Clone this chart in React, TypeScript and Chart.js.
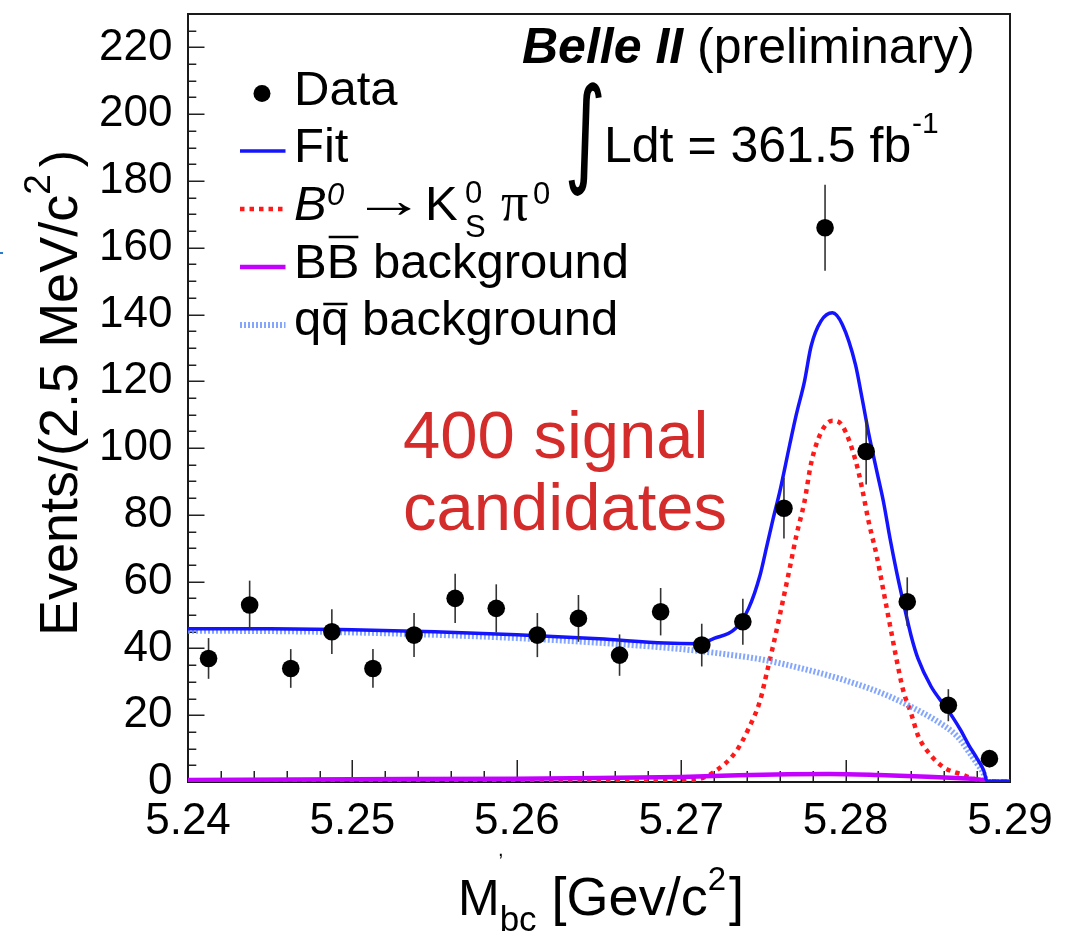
import React, { useEffect, useRef } from 'react';
import { Chart, registerables } from 'chart.js';

Chart.register(...registerables);

// ---------- data ----------
const binCenters = [
  5.24125, 5.24375, 5.24625, 5.24875, 5.25125, 5.25375, 5.25625, 5.25875, 5.26125, 5.26375,
  5.26625, 5.26875, 5.27125, 5.27375, 5.27625, 5.27875, 5.28125, 5.28375, 5.28625, 5.28875,
];
const dataCounts = [37, 53, 34, 45, 34, 44, 55, 52, 44, 49, 38, 51, 41, 48, 82, 166, 99, 54, 23, 7];
const dataErrors = [6.1, 7.3, 5.8, 6.7, 5.8, 6.6, 7.4, 7.2, 6.6, 7.0, 6.2, 7.1, 6.4, 6.9, 9.1, 12.9, 9.9, 7.3, 4.8, 2.6];

const fitX = [
  5.24, 5.245, 5.25, 5.255, 5.26, 5.265, 5.269, 5.271, 5.272, 5.2733, 5.2741, 5.2748, 5.2752, 5.2756,
  5.276, 5.2766, 5.277, 5.2775, 5.2779, 5.2785, 5.2792, 5.2798, 5.2806, 5.281, 5.2814, 5.2819, 5.2823,
  5.2827, 5.2831, 5.2835, 5.284, 5.2844, 5.2852, 5.286, 5.2865, 5.287, 5.2875, 5.288, 5.2884, 5.2886, 5.29,
];
const fitY = [
  45.9, 45.9, 45.6, 45.0, 44.1, 42.9, 41.6, 41.4, 43.0, 46.0, 52.0, 62.0, 70.5, 79.0,
  87.0, 101.0, 110.0, 120.0, 130.5, 138.0, 140.5, 137.0, 125.0, 115.0, 104.5, 93.0, 84.0,
  73.0, 63.0, 54.0, 43.5, 37.0, 28.6, 23.0, 19.5, 15.5, 11.0, 7.0, 3.5, 0.3, 0.2,
];

const signalX = [
  5.24, 5.25, 5.26, 5.265, 5.269, 5.271, 5.272, 5.2733, 5.2741, 5.2748, 5.2752, 5.2756, 5.276, 5.2766,
  5.277, 5.2775, 5.2779, 5.2785, 5.2792, 5.2798, 5.2806, 5.281, 5.2814, 5.2819, 5.2823, 5.2827, 5.2831,
  5.2835, 5.284, 5.2844, 5.2852, 5.286, 5.2871, 5.2877, 5.2888, 5.29,
];
const signalY = [
  0, 0, 0, 0, 0.2, 0.8, 3.0, 8.9, 16.0, 24.4, 32.6, 41.0, 50.0, 64.0,
  73.7, 84.0, 95.4, 104.6, 108.2, 106.7, 96.4, 88.0, 78.0, 67.6, 57.3, 47.0, 36.7,
  27.5, 20.3, 14.0, 7.9, 4.3, 2.2, 1.1, 0.3, 0,
];

const qqX = [
  5.24, 5.245, 5.25, 5.255, 5.26, 5.265, 5.27, 5.2725, 5.275, 5.2775, 5.28, 5.2825, 5.2845, 5.2855,
  5.2865, 5.287, 5.2875, 5.288, 5.2884, 5.2886, 5.29,
];
const qqY = [
  45.3, 45.2, 44.8, 44.1, 43.1, 41.7, 39.8, 38.4, 36.6, 33.8, 30.4, 26.0, 21.2, 18.4,
  15.0, 12.5, 9.0, 5.5, 2.5, 0, 0,
];

const bbX = [5.24, 5.25, 5.26, 5.265, 5.27, 5.2735, 5.2765, 5.279, 5.282, 5.285, 5.287, 5.2884, 5.2886, 5.29];
const bbY = [0.6, 0.8, 1.0, 1.2, 1.5, 2.0, 2.3, 2.4, 2.1, 1.6, 1.1, 0.5, 0, 0];

const X_MIN = 5.24;
const X_MAX = 5.29;
const Y_MIN = 0;
const Y_MAX = 230;
const X_MAJOR = 0.01;
const X_MINOR = 0.002;
const Y_MAJOR = 20;
const Y_MINOR = 5;

// ---------- styling ----------
const SANS = '"Liberation Sans", Arial, Helvetica, sans-serif';
const SERIF = '"Liberation Serif", "Times New Roman", serif';
const FIT_COLOR = '#1414ff';
const SIG_COLOR = '#ff1a1a';
const BB_COLOR = '#c400ff';
const QQ_COLOR = 'rgba(110,150,255,0.85)';
const RED_TEXT = '#d42b2b';

const pairs = (xs: number[], ys: number[]) => xs.map((x, i) => ({ x, y: ys[i] }));

type Run = { t: string; font: string; dy?: number; dx?: number; color?: string };

function drawRuns(ctx: CanvasRenderingContext2D, x: number, y: number, runs: Run[]) {
  let cx = x;
  for (const r of runs) {
    ctx.font = r.font;
    ctx.fillStyle = r.color || '#000';
    cx += r.dx || 0;
    ctx.fillText(r.t, cx, y + (r.dy || 0));
    cx += ctx.measureText(r.t).width;
  }
  return cx;
}

// draw a glyph stretched to fill a given ink box
function fitGlyph(ctx: CanvasRenderingContext2D, t: string, font: string, x: number, y: number, w: number, h: number) {
  ctx.font = font;
  const m = ctx.measureText(t);
  const gw = m.actualBoundingBoxLeft + m.actualBoundingBoxRight || 1;
  const gh = m.actualBoundingBoxAscent + m.actualBoundingBoxDescent || 1;
  ctx.save();
  ctx.translate(x, y);
  ctx.scale(w / gw, h / gh);
  ctx.fillStyle = '#000';
  ctx.fillText(t, m.actualBoundingBoxLeft, m.actualBoundingBoxAscent);
  ctx.restore();
}

const decorPlugin = {
  id: 'decor',
  beforeDatasetsDraw(chart: any) {
    const ctx: CanvasRenderingContext2D = chart.ctx;
    const { left, right, top, bottom } = chart.chartArea;
    const xs = chart.scales.x;
    const ys = chart.scales.y;
    ctx.save();
    ctx.strokeStyle = '#222';
    ctx.lineWidth = 1.5;
    const nY = Math.round((Y_MAX - Y_MIN) / Y_MINOR);
    for (let i = 1; i < nY; i++) {
      const v = Y_MIN + i * Y_MINOR;
      const py = Math.round(ys.getPixelForValue(v)) + 0.25;
      const major = Math.abs(v / Y_MAJOR - Math.round(v / Y_MAJOR)) < 1e-6;
      const len = major ? 16.5 : 8.3;
      ctx.beginPath();
      ctx.moveTo(left, py);
      ctx.lineTo(left + len, py);
      ctx.stroke();
    }
    const nX = Math.round((X_MAX - X_MIN) / X_MINOR);
    const per = Math.round(X_MAJOR / X_MINOR);
    for (let i = 1; i < nX; i++) {
      const v = X_MIN + i * X_MINOR;
      const px = Math.round(xs.getPixelForValue(v)) + 0.25;
      const len = i % per === 0 ? 22 : 11;
      ctx.beginPath();
      ctx.moveTo(px, bottom);
      ctx.lineTo(px, bottom - len);
      ctx.stroke();
    }
    ctx.strokeStyle = '#1a1a1a';
    ctx.lineWidth = 2;
    ctx.strokeRect(left, top, right - left, bottom - top);
    ctx.restore();
  },
  beforeDatasetDraw(chart: any, args: any) {
    if (args.index !== 0) return;
    const ctx: CanvasRenderingContext2D = chart.ctx;
    const xs = chart.scales.x;
    const ys = chart.scales.y;
    ctx.save();
    ctx.strokeStyle = '#333';
    ctx.lineWidth = 1.6;
    binCenters.forEach((x, i) => {
      const px = xs.getPixelForValue(x);
      const y1 = ys.getPixelForValue(dataCounts[i] - dataErrors[i]);
      const y2 = ys.getPixelForValue(dataCounts[i] + dataErrors[i]);
      ctx.beginPath();
      ctx.moveTo(px, y1);
      ctx.lineTo(px, y2);
      ctx.stroke();
    });
    ctx.restore();
  },
  afterDraw(chart: any) {
    const ctx: CanvasRenderingContext2D = chart.ctx;
    ctx.save();
    ctx.textBaseline = 'alphabetic';
    ctx.textAlign = 'left';

    const F = (size: number, style = '') => `${style} ${size}px ${SANS}`.trim();
    const LF = 49;

    // Belle II (preliminary)
    drawRuns(ctx, 522, 63, [
      { t: 'Belle II', font: F(50, 'italic bold') },
      { t: ' (preliminary)', font: F(50) },
    ]);

    // integral
    fitGlyph(ctx, '∫', '100px "DejaVu Sans"', 568, 82, 34, 115);
    drawRuns(ctx, 604, 162, [{ t: 'Ldt = 361.5 fb', font: F(50) }]);
    drawRuns(ctx, 912, 133, [{ t: '-1', font: F(30) }]);

    // legend
    const lx1 = 240;
    const lx2 = 285.5;
    const tx = 294;
    ctx.fillStyle = '#000';
    ctx.beginPath();
    ctx.arc(262, 93.5, 8.5, 0, Math.PI * 2);
    ctx.fill();
    drawRuns(ctx, tx, 105, [{ t: 'Data', font: F(LF) }]);

    ctx.strokeStyle = FIT_COLOR;
    ctx.lineWidth = 3.5;
    ctx.beginPath();
    ctx.moveTo(lx1, 151);
    ctx.lineTo(lx2, 151);
    ctx.stroke();
    drawRuns(ctx, tx, 162, [{ t: 'Fit', font: F(LF) }]);

    ctx.strokeStyle = SIG_COLOR;
    ctx.lineWidth = 4.5;
    ctx.setLineDash([4.5, 5]);
    ctx.beginPath();
    ctx.moveTo(lx1, 209);
    ctx.lineTo(lx2, 209);
    ctx.stroke();
    ctx.setLineDash([]);
    ctx.fillStyle = '#000';
    ctx.font = F(LF, 'italic');
    ctx.fillText('B', tx, 220);
    ctx.font = F(31, 'italic');
    ctx.fillText('0', 327, 205);
    fitGlyph(ctx, '→', `100px ${SANS}`, 367, 202, 44, 12);
    ctx.font = F(LF);
    ctx.fillText('K', 425, 220);
    ctx.font = F(31);
    ctx.fillText('0', 465, 203);
    ctx.fillText('S', 465, 237);
    ctx.font = `54px ${SERIF}`;
    ctx.fillText('π', 501, 220);
    ctx.font = F(31);
    ctx.fillText('0', 533, 204);

    ctx.strokeStyle = BB_COLOR;
    ctx.lineWidth = 4.5;
    ctx.beginPath();
    ctx.moveTo(lx1, 267);
    ctx.lineTo(lx2, 267);
    ctx.stroke();
    ctx.font = F(LF);
    ctx.fillStyle = '#000';
    ctx.fillText('B', tx, 278);
    const bw = ctx.measureText('B').width;
    ctx.fillText('B', tx + bw, 278);
    ctx.strokeStyle = '#000';
    ctx.lineWidth = 2.5;
    ctx.beginPath();
    ctx.moveTo(tx + bw + 2, 237);
    ctx.lineTo(tx + 2 * bw - 1, 237);
    ctx.stroke();
    drawRuns(ctx, tx + 2 * bw, 278, [{ t: ' background', font: F(LF) }]);

    ctx.strokeStyle = QQ_COLOR;
    ctx.lineWidth = 6;
    ctx.setLineDash([2, 2]);
    ctx.beginPath();
    ctx.moveTo(lx1, 325);
    ctx.lineTo(lx2, 325);
    ctx.stroke();
    ctx.setLineDash([]);
    ctx.font = F(LF);
    ctx.fillStyle = '#000';
    ctx.fillText('q', tx, 335);
    const qw = ctx.measureText('q').width;
    ctx.fillText('q', tx + qw, 335);
    ctx.strokeStyle = '#000';
    ctx.lineWidth = 2.5;
    ctx.beginPath();
    ctx.moveTo(tx + qw + 2, 304);
    ctx.lineTo(tx + 2 * qw - 1, 304);
    ctx.stroke();
    drawRuns(ctx, tx + 2 * qw, 335, [{ t: ' background', font: F(LF) }]);

    // signal annotation
    drawRuns(ctx, 403, 458, [{ t: '400 signal', font: F(67), color: RED_TEXT }]);
    drawRuns(ctx, 403, 530, [{ t: 'candidates', font: F(67), color: RED_TEXT }]);

    // x axis title
    drawRuns(ctx, 458, 915, [
      { t: 'M', font: F(50) },
      { t: 'bc', font: F(35), dy: 16 },
      { t: ' [Gev/c', font: F(54) },
      { t: '2', font: F(33), dy: -25 },
      { t: ']', font: F(54), dx: 3 },
    ]);
    drawRuns(ctx, 498, 856, [{ t: ',', font: F(20) }]);

    // y axis title
    ctx.save();
    ctx.translate(77, 636);
    ctx.rotate(-Math.PI / 2);
    drawRuns(ctx, 0, 0, [
      { t: 'Events/(2.5 MeV/c', font: F(54) },
      { t: '2', font: F(37), dy: -27 },
      { t: ')', font: F(52), dx: 7 },
    ]);
    ctx.restore();

    ctx.fillStyle = '#2a7ad0';
    ctx.fillRect(0, 252, 3, 2);

    ctx.restore();
  },
};

export default function App() {
  const ref = useRef<HTMLCanvasElement | null>(null);

  useEffect(() => {
    document.body.style.margin = '0';
    const canvas = ref.current;
    if (!canvas) return;
    const lineBase = {
      type: 'line' as const,
      pointRadius: 0,
      pointHoverRadius: 0,
      fill: false,
      cubicInterpolationMode: 'monotone' as const,
    };
    const chart = new Chart(canvas, {
      type: 'scatter',
      data: {
        datasets: [
          {
            label: 'Data',
            data: pairs(binCenters, dataCounts),
            pointRadius: 8.8,
            pointHoverRadius: 8.8,
            backgroundColor: '#000',
            borderWidth: 0,
            order: 0,
          } as any,
          {
            ...lineBase,
            label: 'Fit',
            data: pairs(fitX, fitY),
            borderColor: FIT_COLOR,
            borderWidth: 3.5,
            order: 1,
          } as any,
          {
            ...lineBase,
            label: 'BB background',
            data: pairs(bbX, bbY),
            borderColor: BB_COLOR,
            borderWidth: 4.5,
            order: 2,
          } as any,
          {
            ...lineBase,
            label: 'qq background',
            data: pairs(qqX, qqY),
            borderColor: QQ_COLOR,
            borderWidth: 6,
            borderDash: [2, 2],
            order: 3,
          } as any,
          {
            ...lineBase,
            label: 'B0 → K0S π0',
            data: pairs(signalX, signalY),
            borderColor: SIG_COLOR,
            borderWidth: 4.5,
            borderDash: [4.5, 5],
            order: 4,
          } as any,
        ],
      },
      options: {
        responsive: false,
        animation: false,
        devicePixelRatio: 1,
        layout: { padding: { top: 14, right: 72, left: 0, bottom: 0 } },
        plugins: {
          legend: { display: false },
          tooltip: { enabled: false },
        },
        events: [],
        scales: {
          x: {
            type: 'linear',
            min: X_MIN,
            max: X_MAX,
            grid: { display: false, drawTicks: false },
            border: { display: false },
            ticks: {
              stepSize: X_MAJOR,
              includeBounds: false,
              autoSkip: false,
              maxRotation: 0,
              padding: 13,
              color: '#000',
              font: { family: SANS, size: 44 },
              callback: (v: any) => Number(v).toFixed(2),
            },
            afterFit: (s: any) => {
              s.height = 155;
              s.paddingLeft = 0;
              s.paddingRight = 0;
            },
          },
          y: {
            type: 'linear',
            min: Y_MIN,
            max: Y_MAX,
            grid: { display: false, drawTicks: false },
            border: { display: false },
            ticks: {
              stepSize: Y_MAJOR,
              includeBounds: false,
              autoSkip: false,
              padding: 15.5,
              color: '#000',
              font: { family: SANS, size: 44 },
              callback: (v: any) => String(Math.round(Number(v))),
            },
            afterFit: (s: any) => {
              s.width = 188;
              s.paddingTop = 0;
              s.paddingBottom = 0;
            },
          },
        },
      } as any,
      plugins: [decorPlugin],
    });
    return () => chart.destroy();
  }, []);

  return (
    <div style={{ width: 1082, height: 937, position: 'relative', background: '#fff' }}>
      <canvas ref={ref} width={1082} height={937} style={{ display: 'block' }} />
    </div>
  );
}
